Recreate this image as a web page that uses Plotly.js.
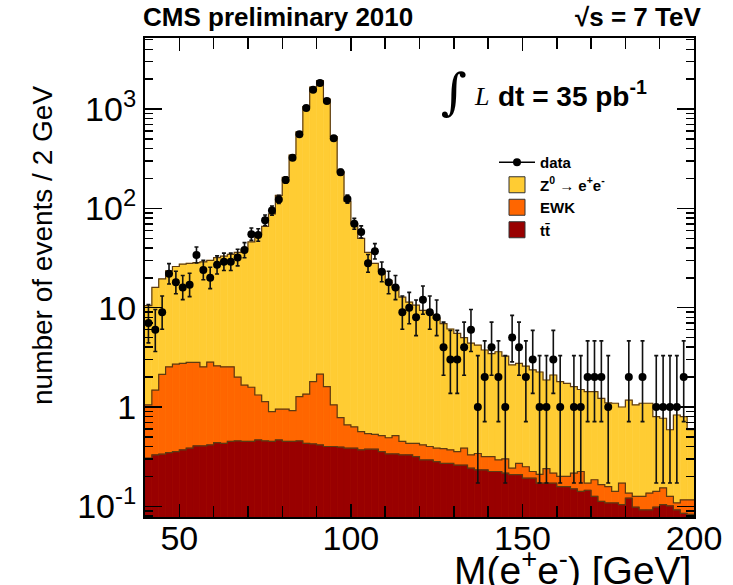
<!DOCTYPE html>
<html><head><meta charset="utf-8">
<script src="https://cdn.plot.ly/plotly-3.0.1.min.js"></script>
<style>html,body{margin:0;padding:0;background:#fff}#chart{width:733px;height:585px}</style>
</head><body><div id="chart"></div>
<script>
// Bin centres (2 GeV bins, 40-200 GeV)
const binCenters = [41,43,45,47,49,51,53,55,57,59,61,63,65,67,69,71,73,75,77,79,
  81,83,85,87,89,91,93,95,97,99,101,103,105,107,109,111,113,115,117,119,
  121,123,125,127,129,131,133,135,137,139,141,143,145,147,149,151,153,155,157,159,
  161,163,165,167,169,171,173,175,177,179,181,183,185,187,189,191,193,195,197,199];

// Observed events per bin
const dataCounts = [7,6,9,22,18,16,17,34,24,20,27,29,29,32,38,55,54,76,95,123,
  193,323,559,1028,1570,1833,1208,508,231,124,70,58,28,37,23,18,16,9,10,8,
  12,9,8,4,3,3,4,6,1,2,4,2,1,5,4,2,3,1,1,3,
  1,0,1,1,2,2,2,1,0,0,2,0,2,0,1,1,1,1,2,0];

// Stack top: Z->ee + EWK + ttbar
const zStackTop = [10.5,16,19.5,23.5,26,27.5,28,28.5,29,30,32,33,34.5,36,39,46,55,66,88,135,
  205,345,590,1060,1670,1940,1260,530,235,118,70,50,36,28,23.4,18.9,16.2,12.8,11.4,10.6,
  9.4,8.8,7.8,6.9,6.1,5.5,5.0,4.4,4.2,3.75,3.45,3.6,3.25,2.65,2.75,2.58,2.37,2.25,1.87,2.1,
  1.8,1.73,1.6,1.5,1.43,1.43,1.22,1.1,1.09,1.0,1.17,1.05,1.09,1.09,0.8,0.77,0.59,0.83,0.8,0.59];

// Stack top: EWK + ttbar
const ewkStackTop = [1.05,1.48,2.13,2.54,2.7,2.75,2.81,2.81,2.54,2.83,2.6,2.54,2.54,2.0,1.66,1.58,1.32,1.13,0.9,0.95,
  0.95,0.92,1.27,1.35,1.8,2.14,1.6,1.05,0.78,0.66,0.63,0.565,0.54,0.53,0.515,0.49,0.515,0.45,0.43,0.43,
  0.415,0.40,0.385,0.38,0.37,0.355,0.385,0.33,0.34,0.317,0.317,0.293,0.30,0.242,0.27,0.25,0.224,0.21,0.24,0.216,
  0.2,0.2,0.216,0.224,0.171,0.185,0.165,0.158,0.141,0.171,0.136,0.126,0.126,0.136,0.141,0.153,0.126,0.108,0.116,0.116];

// ttbar
const ttbarYield = [0.305,0.33,0.335,0.347,0.355,0.37,0.385,0.406,0.406,0.415,0.438,0.43,0.45,0.455,0.45,0.45,0.466,0.455,0.45,0.466,
  0.45,0.45,0.455,0.43,0.425,0.415,0.40,0.40,0.395,0.385,0.385,0.37,0.376,0.376,0.355,0.337,0.337,0.33,0.33,0.317,
  0.293,0.293,0.282,0.27,0.27,0.26,0.26,0.242,0.233,0.233,0.224,0.224,0.216,0.208,0.208,0.192,0.192,0.171,0.171,0.171,
  0.158,0.158,0.15,0.141,0.145,0.126,0.112,0.108,0.108,0.104,0.121,0.098,0.092,0.092,0.098,0.104,0.101,0.092,0.085,0.083];

const legendNames = ['data', 'Z<sup>0</sup> \u2192 e<sup>+</sup>e<sup>-</sup>', 'EWK', 'tt\u0304'];

const C_Z = '#FFCC33', C_EWK = '#FF6600', C_TT = '#990000', C_EDGE = '#5c3b12';
const FONT = 'Liberation Sans, Arial, Helvetica, sans-serif';

// Poisson 68% intervals (Wilson-Hilferty approximation of the Garwood interval)
function poisLow(n){ if(n<=0) return 0; const a=1-1/(9*n)-1/(3*Math.sqrt(n)); return n*a*a*a; }
function poisUp(n){ const m=n+1; const a=1-1/(9*m)+1/(3*Math.sqrt(m)); return m*a*a*a; }

const dX=[], dY=[], eUp=[], eDn=[];
binCenters.forEach((c,i)=>{ const n=dataCounts[i]; if(n>0){ dX.push(c); dY.push(n); eUp.push(poisUp(n)-n); eDn.push(n-poisLow(n)); } });

// step-outline helpers (bin edges from centres)
const edges = binCenters.map(c=>c-1).concat([binCenters[binCenters.length-1]+1]);
const stepY = arr => arr.concat([arr[arr.length-1]]);

function barTrace(y,color){ return {type:'bar', x:binCenters, y:y, width:2, marker:{color:color, line:{color:color, width:0.6}}, showlegend:false, hoverinfo:'skip'}; }
function stepTrace(y){ return {type:'scatter', mode:'lines', x:edges, y:stepY(y), line:{shape:'hv', color:C_EDGE, width:1.2}, showlegend:false, hoverinfo:'skip'}; }

const traces = [
  barTrace(zStackTop, C_Z), barTrace(ewkStackTop, C_EWK), barTrace(ttbarYield, C_TT),
  stepTrace(zStackTop), stepTrace(ewkStackTop), stepTrace(ttbarYield),
  {type:'scatter', mode:'markers', x:dX, y:dY, marker:{color:'black', size:8},
   error_y:{type:'data', symmetric:false, array:eUp, arrayminus:eDn, color:'#111', thickness:1.6, width:2},
   showlegend:false, hoverinfo:'x+y'},
  // legend entries
  {type:'scatter', mode:'lines+markers', x:[null], y:[null], name:legendNames[0], marker:{color:'black', size:8}, line:{color:'black', width:1.5}},
  {type:'scatter', mode:'markers', x:[null], y:[null], name:legendNames[1], marker:{symbol:'square', color:C_Z, size:16, line:{color:'#333', width:1}}},
  {type:'scatter', mode:'markers', x:[null], y:[null], name:legendNames[2], marker:{symbol:'square', color:C_EWK, size:16, line:{color:'#333', width:1}}},
  {type:'scatter', mode:'markers', x:[null], y:[null], name:legendNames[3], marker:{symbol:'square', color:C_TT, size:16, line:{color:'#333', width:1}}}
];

const minorY = [];
[0.01,0.1,1,10,100,1000].forEach(d=>{ for(let k=2;k<=9;k++) minorY.push(d*k); });

const PX = (px)=> (px-145)/549, PY = (py)=> (517-py)/479;

const layout = {
  width:733, height:585, margin:{l:145, r:39, t:38, b:68, pad:0},
  paper_bgcolor:'white', plot_bgcolor:'white',
  barmode:'overlay', bargap:0,
  font:{family:FONT, color:'black'},
  xaxis:{range:[40,200], showline:true, linecolor:'black', linewidth:2, mirror:'ticks',
    ticks:'inside', ticklen:13, tickwidth:1.5, tickcolor:'black', ticklabelstandoff:-10,
    tickvals:[50,100,150,200], tickfont:{size:34, family:FONT}, showgrid:false, zeroline:false,
    minor:{ticks:'inside', ticklen:11, tickwidth:1.5, tickcolor:'black', dtick:10, tick0:0, showgrid:false}},
  yaxis:{type:'log', range:[Math.log10(0.078), Math.log10(5200)], showline:true, linecolor:'black', linewidth:2, mirror:'ticks',
    ticks:'inside', ticklen:17, tickwidth:1.5, tickcolor:'black',
    tickvals:[0.1,1,10,100,1000], ticktext:['10<sup>-1</sup>','1','10','10<sup>2</sup>','10<sup>3</sup>'],
    tickfont:{size:34, family:FONT}, showgrid:false, zeroline:false,
    minor:{ticks:'inside', ticklen:8, tickwidth:1.5, tickcolor:'black', tickvals:minorY, showgrid:false}},
  legend:{x:PX(494), y:PY(146), xanchor:'left', yanchor:'top', bgcolor:'rgba(0,0,0,0)', borderwidth:0,
    font:{size:15, family:FONT, weight:'bold'}, tracegroupgap:0, itemwidth:36},
  annotations:[
    {xref:'paper', yref:'paper', x:PX(141), y:PY(17), xanchor:'left', yanchor:'middle', showarrow:false,
     text:'<b>CMS preliminary 2010</b>', font:{size:26, family:FONT}},
    {xref:'paper', yref:'paper', x:PX(703), y:PY(17), xanchor:'right', yanchor:'middle', showarrow:false,
     text:'<b>\u221As = 7 TeV</b>', font:{size:26, family:FONT}},
    {xref:'paper', yref:'paper', x:PX(454), y:PY(92), xanchor:'center', yanchor:'middle', showarrow:false,
     text:'\u222B', font:{size:50, family:'DejaVu Serif, serif'}},
    {xref:'paper', yref:'paper', x:PX(481), y:PY(96), xanchor:'center', yanchor:'middle', showarrow:false,
     text:'<i>L</i>', font:{size:26, family:'Liberation Serif, Times New Roman, serif'}},
    {xref:'paper', yref:'paper', x:PX(496), y:PY(94), xanchor:'left', yanchor:'middle', showarrow:false,
     text:'<b>dt = 35 pb<sup>-1</sup></b>', font:{size:28, family:FONT}},
    {xref:'paper', yref:'paper', x:PX(693), y:PY(567), xanchor:'right', yanchor:'middle', showarrow:false,
     text:'M(e<sup>+</sup>e<sup>-</sup>) [GeV]', font:{size:39, family:FONT}},
    {xref:'paper', yref:'paper', x:PX(42), y:PY(246), xanchor:'center', yanchor:'middle', showarrow:false, textangle:-90,
     text:'number of events / 2 GeV', font:{size:28, family:FONT}}
  ]
};

Plotly.newPlot('chart', traces, layout, {displayModeBar:false, staticPlot:true});
</script>
</body></html>
